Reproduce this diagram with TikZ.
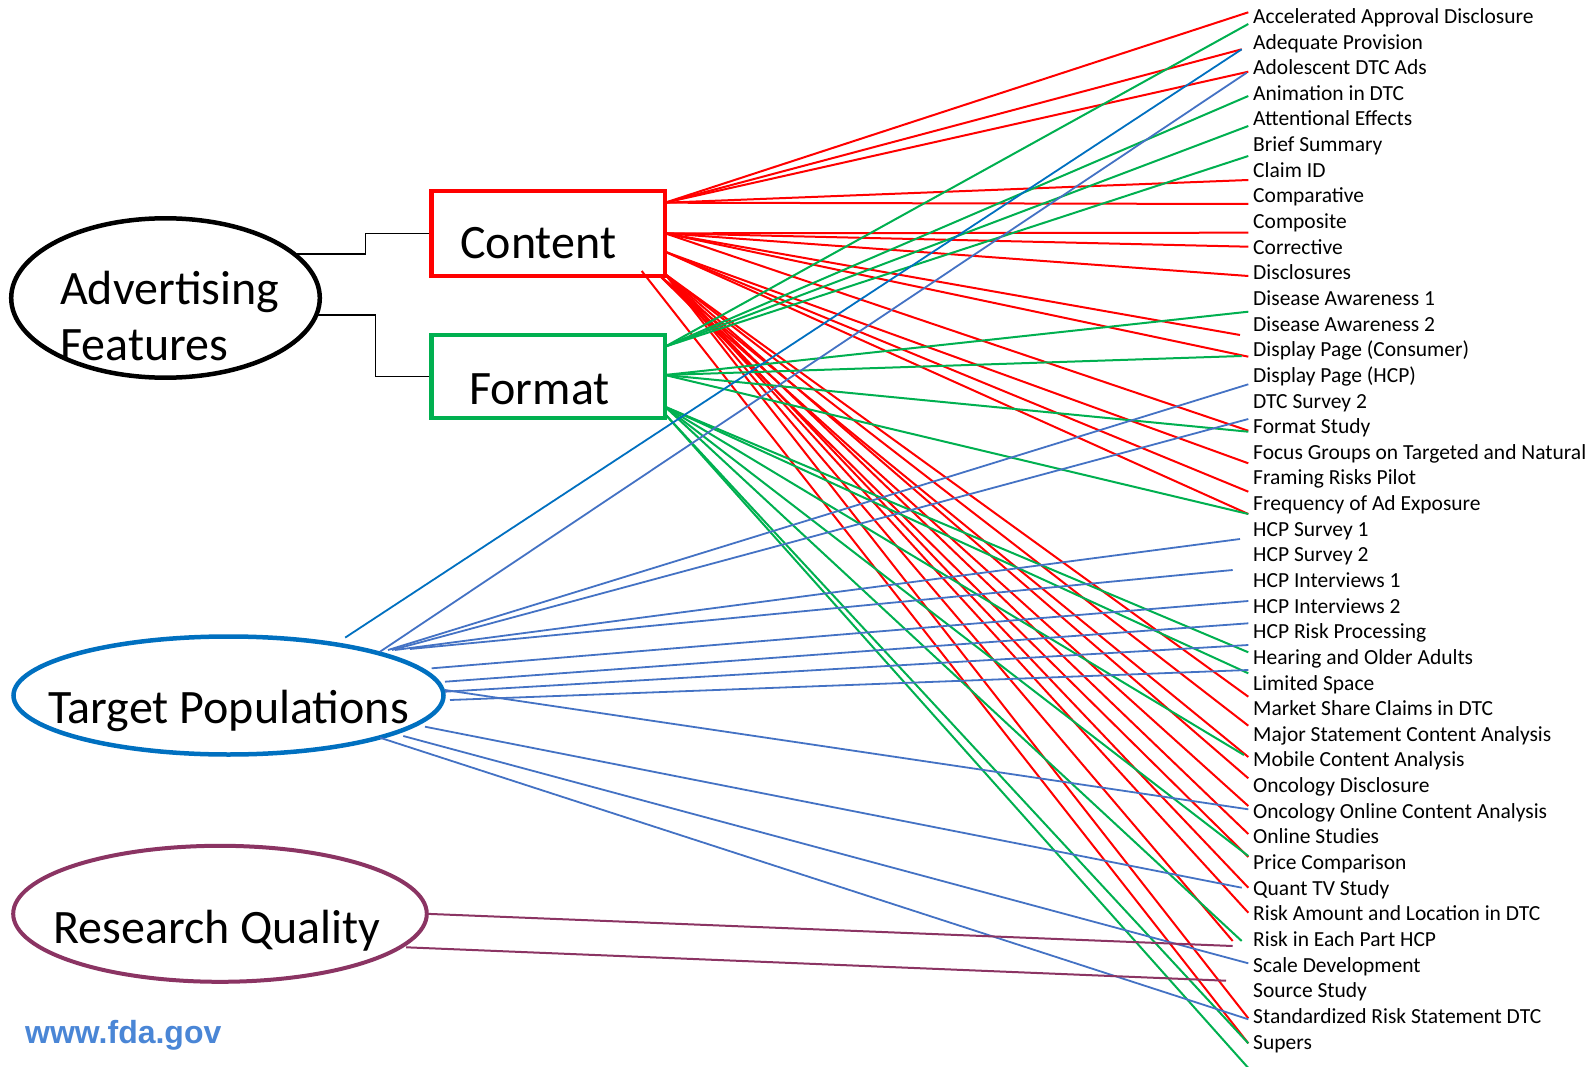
\documentclass[tikz,border=0pt]{standalone}
\usepackage{fontspec}
\setmainfont{Carlito}
\newfontfamily\fdafont{Liberation Sans}
\usetikzlibrary{shapes.geometric}
\definecolor{cred}{HTML}{FF0000}
\definecolor{cgreen}{HTML}{00B050}
\definecolor{cdblue}{HTML}{0070C0}
\definecolor{clblue}{HTML}{4472C4}
\definecolor{cpurp}{HTML}{8B3463}
\definecolor{cfda}{RGB}{74,134,214}
\begin{document}
\begin{tikzpicture}[x=1pt,y=-1pt,
  lbl/.style={font=\fontsize{21.5}{25}\selectfont, anchor=base west, inner sep=0},
  big/.style={font=\fontsize{48}{50}\selectfont, anchor=base west, inner sep=0},
  redl/.style={draw=cred, line width=2},
  greenl/.style={draw=cgreen, line width=2},
  bluel/.style={draw=clblue, line width=1.8},
  dbluel/.style={draw=cdblue, line width=1.8},
  purpl/.style={draw=cpurp, line width=2},
  blackl/.style={draw=black, line width=1.6},
  ell/.style={draw, ellipse, inner sep=0, line width=4.5},
  boxn/.style={draw, rectangle, inner sep=0, line width=4.5}]
\useasboundingbox (0,0) rectangle (1592,1067);
\fill[white] (0,0) rectangle (1592,1067);

% ---- labels ----
\foreach \t [count=\i from 0] in {Accelerated Approval Disclosure, Adequate Provision, Adolescent DTC Ads, Animation in DTC, Attentional Effects, Brief Summary, Claim ID, Comparative, Composite, Corrective, Disclosures, Disease Awareness 1, Disease Awareness 2, Display Page (Consumer), Display Page (HCP), DTC Survey 2, Format Study, Focus Groups on Targeted and Natural, Framing Risks Pilot, Frequency of Ad Exposure, HCP Survey 1, HCP Survey 2, HCP Interviews 1, HCP Interviews 2, HCP Risk Processing, Hearing and Older Adults, Limited Space, Market Share Claims in DTC, Major Statement Content Analysis, Mobile Content Analysis, Oncology Disclosure, Oncology Online Content Analysis, Online Studies, Price Comparison, Quant TV Study, Risk Amount and Location in DTC, Risk in Each Part HCP, Scale Development, Source Study, Standardized Risk Statement DTC, Supers}
  \node[lbl] (l\i) at (1253,{23.4+25.64*\i}) {\t};

% ---- main shapes ----
\node[ell, minimum width=308.6, minimum height=159.4] (AF) at (165.5,298) {};
\node[ell, draw=cdblue, minimum width=430, minimum height=118] (TP) at (228.5,695.5) {};
\node[ell, draw=cpurp, line width=4, minimum width=413.6, minimum height=136] (RQ) at (220,913.8) {};
\node[boxn, draw=cred, minimum width=233.5, minimum height=85] (Content) at (548.25,233.5) {};
\node[boxn, draw=cgreen, minimum width=233.5, minimum height=83] (Format) at (548.25,376.5) {};

% ---- source points ----
\coordinate (C1) at (665,202.7);
\coordinate (C2) at (665,233.3);
\coordinate (C3) at (665,251.7);
\coordinate (C4) at (665,274);
\coordinate (C6) at (660,276);
\coordinate (C5) at (641.7,271);
\coordinate (F1) at (665,346.7);
\coordinate (F2) at (665,375);
\coordinate (F3) at (665,406.7);
\coordinate (F4) at (665,414);
\coordinate (AFa) at (297,254);
\coordinate (AFb) at (318,315);

% ---- black connectors ----
\draw[blackl] (AFa) -- (365.5,254) |- (Content.west);
\draw[blackl] (AFb) -- (375.5,315) |- (Format.west);

% ---- red (Content) ----
\foreach \s/\x/\y [count=\n] in {C1/1248.3/12.3, C1/1241.7/49.3, C1/1248.3/71.7, C1/1248.3/180, C1/1248.3/204,
  C2/1248.3/232.7, C2/1248.3/246.7, C2/1248.3/276, C2/1240/335, C2/1248.3/356.7, C2/1248.3/430.7,
  C3/1248.3/463.3, C3/1248.3/491.7, C3/1248.3/514,
  C4/1248.3/696.7, C4/1248.3/725.7, C6/1248.3/757, C4/1248.3/778.3, C6/1248.3/806, C4/1248.3/834, C6/1248.3/857,
  C4/1248.3/887.7, C4/1248.3/912.7, C4/1232.7/941, C4/1248.3/1018.3,
  C5/1248.3/1043.3}
  {\coordinate (re\n) at (\x,\y); \draw[redl] (\s) -- (re\n);}

% ---- green (Format) ----
\foreach \s/\x/\y [count=\n] in {F1/1248.3/24, F1/1248.3/96, F1/1248.3/126, F1/1248.3/156,
  F2/1248.3/311.7, F2/1241.7/356, F2/1248.3/431.7, F2/1248.3/514,
  F3/1248.3/652.3, F3/1248.3/673.3, F3/1244/755, F3/1248.3/856, F3/1241.7/941,
  F4/1248.3/1043.3, F4/1248.3/1068}
  {\coordinate (ge\n) at (\x,\y); \draw[greenl] (\s) -- (ge\n);}

% ---- blue (Target Populations) ----
\coordinate (Bd) at (345.2,637.6);
\coordinate (bd1) at (1241.7,49.3);
\draw[dbluel] (Bd) -- (bd1);
\foreach \sx/\sy/\x/\y [count=\n] in {380/651.7/1246.7/72.7, 388/650/1248.3/384.3, 392/650/1248.3/419,
  395/650/1240/539, 410/649/1232.7/570, 431.7/668.3/1248.3/601, 445/681.7/1248.3/623.3,
  445/691.7/1248.3/645, 450/700/1248.3/670, 445/690/1248.3/809.3, 425/726.7/1241.7/887.7,
  403.3/736/1248.3/963.3, 380/737.7/1248.3/1019.3}
  {\coordinate (bs\n) at (\sx,\sy); \coordinate (be\n) at (\x,\y); \draw[bluel] (bs\n) -- (be\n);}

% ---- purple (Research Quality) ----
\coordinate (P1) at (426.4,913.8);
\coordinate (P2) at (406.1,947.3);
\coordinate (pe1) at (1232.7,946);
\coordinate (pe2) at (1226,980.7);
\draw[purpl] (P1) -- (pe1);
\draw[purpl] (P2) -- (pe2);

% ---- texts ----
\node[big] (tAdv) at (60,304.6) {Advertising};
\node[big] (tFea) at (60,360.4) {Features};
\node[big] (tCon) at (460,259) {Content};
\node[big] (tFor) at (469,404) {Format};
\node[big] (tTP) at (48,723) {Target Populations};
\node[big] (tRQ) at (53,943.5) {Research Quality};
\node[font=\fdafont\bfseries\fontsize{32}{34}\selectfont, text=cfda, anchor=base west, inner sep=0] (fda) at (25,1043) {www.fda.gov};
\end{tikzpicture}
\end{document}
